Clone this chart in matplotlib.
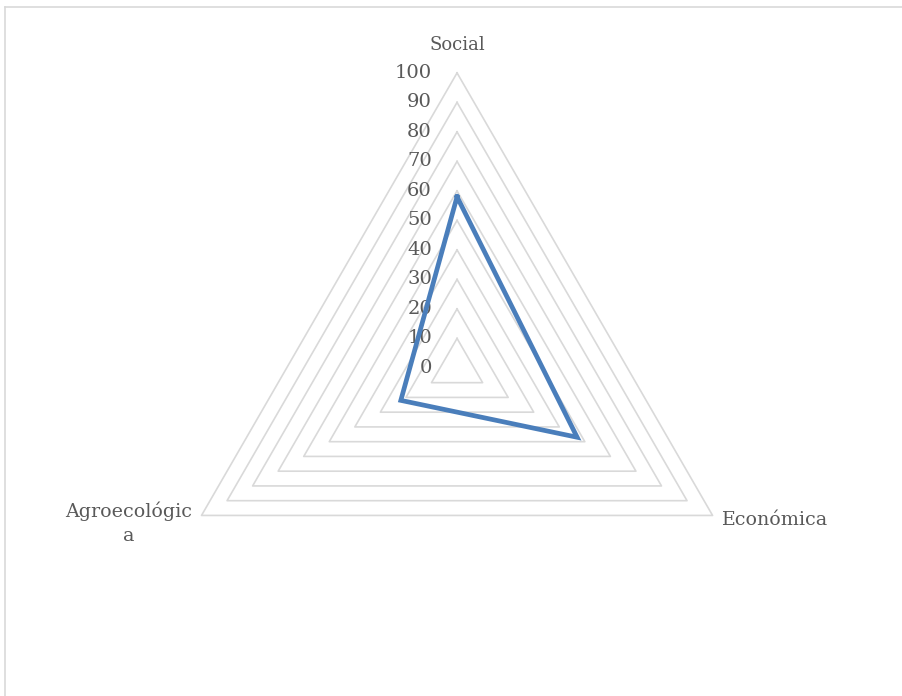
import numpy as np
import matplotlib
matplotlib.use("Agg")
import matplotlib.pyplot as plt
from matplotlib.lines import Line2D

categories = ["Social", "Económica", "Agroecológic\na"]
values = [58, 47, 22]
ring_levels = [10, 20, 30, 40, 50, 60, 70, 80, 90, 100]
tick_labels = ["0", "10", "20", "30", "40", "50", "60", "70", "80", "90", "100"]

plt.rcParams['font.family'] = ['DejaVu Serif']
text_color = "#595959"
grid_color = "#d9d9d9"
line_color = "#4a7ebb"

fig = plt.figure(figsize=(9.02, 6.96), dpi=100)
ax = fig.add_axes([0, 0, 1, 1])
ax.set_xlim(-154.9, 150.8)
ax.set_ylim(-111.2, 124.7)
ax.axis("off")

# axis directions: top, bottom-right, bottom-left
angles = np.deg2rad([90, -30, 210])

def to_xy(r):
    r = np.asarray(r, dtype=float)
    return r * np.cos(angles), r * np.sin(angles)

# triangle grid
for lvl in ring_levels:
    gx, gy = to_xy([lvl] * 3)
    ax.plot(np.append(gx, gx[0]), np.append(gy, gy[0]), color=grid_color, lw=1.2, zorder=1)

# tick labels along the vertical axis
for i, lab in enumerate(tick_labels):
    ax.text(-8.5, i * 10, lab, ha="right", va="center", fontsize=14, color=text_color)

# data series
dx, dy = to_xy(values)
ax.plot(np.append(dx, dx[0]), np.append(dy, dy[0]), color=line_color, lw=3.4, zorder=3,
        solid_joinstyle="miter")

# category labels
ax.text(0, 109.5, categories[0], ha="center", va="center", fontsize=13, color=text_color)
ax.text(89.5, -51.5, categories[1], ha="left", va="center", fontsize=13.7, color=text_color)
ax.text(-111.2, -52.7, categories[2], ha="center", va="center", fontsize=13.7, color=text_color,
        linespacing=1.45)

# chart area border (cropped at right/bottom)
fig.add_artist(Line2D([5 / 902, 1], [1 - 7 / 696, 1 - 7 / 696], color=grid_color, lw=1.2))
fig.add_artist(Line2D([5 / 902, 5 / 902], [0, 1 - 7 / 696], color=grid_color, lw=1.2))

fig.savefig("out.png", dpi=100, facecolor="white")
